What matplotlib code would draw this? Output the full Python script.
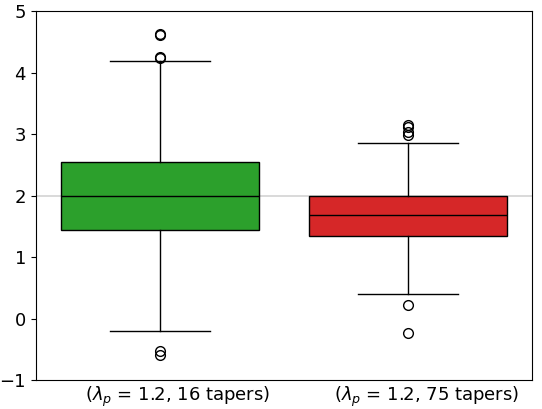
import matplotlib
matplotlib.use("Agg")
import matplotlib.pyplot as plt
import matplotlib.transforms as mtransforms

labels = [r"($\lambda_p$ = 1.2, 16 tapers)", r"($\lambda_p$ = 1.2, 75 tapers)"]
colors = ["#2ca02c", "#d62728"]
q1 = [1.44, 1.34]
med = [2.00, 1.68]
q3 = [2.54, 1.99]
whislo = [-0.20, 0.41]
whishi = [4.19, 2.85]
fliers = [
    [4.63, 4.61, 4.26, 4.24, -0.53, -0.58],
    [3.15, 3.12, 3.04, 2.98, 0.22, -0.23],
]

stats = []
for i in range(2):
    stats.append(dict(med=med[i], q1=q1[i], q3=q3[i], whislo=whislo[i],
                      whishi=whishi[i], fliers=fliers[i], label=labels[i]))

plt.rcParams["font.size"] = 13
fig, ax = plt.subplots(figsize=(5.42, 4.09), dpi=100)
ax.axhline(2, color="lightgray", lw=1.2, zorder=0)
bp = ax.bxp(stats, positions=[0, 1], widths=0.8, patch_artist=True,
            medianprops=dict(color="black", lw=1),
            whiskerprops=dict(color="black", lw=1),
            capprops=dict(color="black", lw=1),
            boxprops=dict(edgecolor="black", lw=1),
            flierprops=dict(marker="o", markerfacecolor="none",
                            markeredgecolor="black", markersize=7),
            capwidths=0.4)
for patch, c in zip(bp["boxes"], colors):
    patch.set_facecolor(c)
ax.set_xlim(-0.5, 1.5)
ax.set_ylim(-1, 5)
ax.set_xticks([0, 1])
ax.set_xticklabels(labels)
ax.tick_params(axis="x", length=0)
# labels sit a bit right of the box centres in the original
offset = mtransforms.ScaledTranslation(18 / 100, 0, fig.dpi_scale_trans)
for lab in ax.get_xticklabels():
    lab.set_transform(lab.get_transform() + offset)
fig.subplots_adjust(left=0.066, right=0.982, top=0.973, bottom=0.07)
fig.savefig("out.png", dpi=100)
